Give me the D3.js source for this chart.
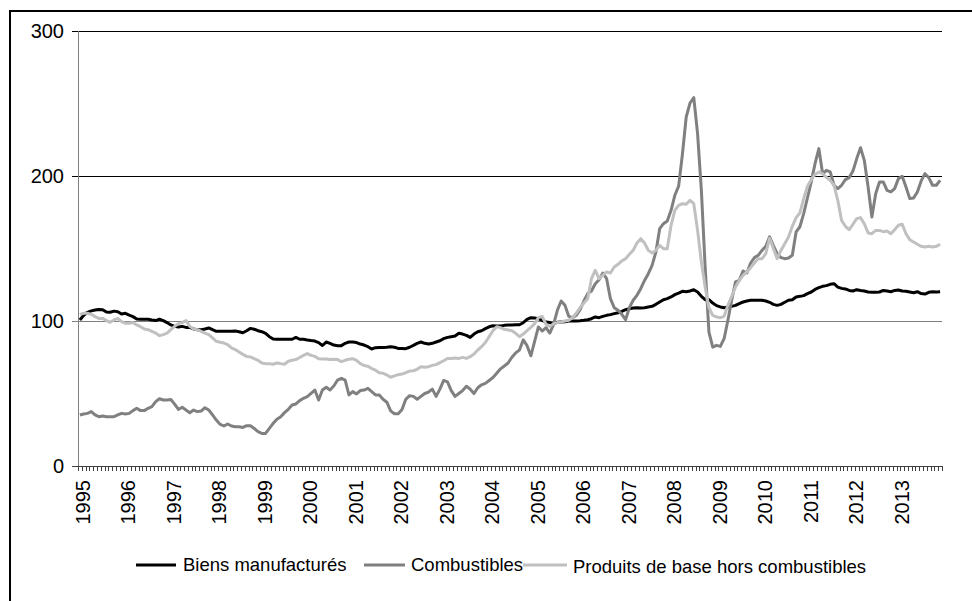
<!DOCTYPE html>
<html>
<head>
<meta charset="utf-8">
<script src="https://cdn.jsdelivr.net/npm/d3@7/dist/d3.min.js"></script>
<style>
  body { margin: 0; background: #fff; }
  svg { display: block; font-family: "Liberation Sans", Arial, sans-serif; }
</style>
</head>
<body>
<div id="chart"></div>
<script>
// year labels on the x axis (monthly data, Jan 1995 - Dec 2013)
const years = [1995,1996,1997,1998,1999,2000,2001,2002,2003,2004,2005,2006,2007,2008,2009,2010,2011,2012,2013];
const yTicks = [0, 100, 200, 300];
const seriesNames = ["Biens manufacturés", "Combustibles", "Produits de base hors combustibles"];

// one row per year, 12 monthly values
const biens = [
  100.7,104,106,107,107.6,108,107.8,106.2,106,106.8,106.4,104.8,
  105.3,104,103,101.4,101.2,101.2,101.2,100.7,100.3,101.2,100.3,98.9,
  97.3,96.3,95.8,96.3,95.6,95.6,94.5,94,94,94.5,95.2,94,
  92.9,92.9,92.9,92.9,92.9,93.1,92.6,91.9,93.3,94.9,94.3,93.3,
  92.6,91.5,89.2,87.6,87.4,87.4,87.4,87.4,87.4,88.7,87.4,87.4,
  86.9,86.5,86.2,85.1,83.1,85.5,84.6,83.4,83,83,84.6,85.5,
  85.5,85.1,84.1,83.4,82.3,80.7,81.6,81.8,81.8,81.9,82.3,81.9,
  81.1,81.1,80.9,81.9,83.2,84.6,85.5,84.6,84.1,84.6,85.5,86.4,
  87.8,88.7,89.2,89.6,91.5,91,90.1,88.7,91,92.6,93.3,94.7,
  96,96.7,96.5,96.5,97,97.2,97.2,97.4,97.4,98.8,101.1,102.3,
  102,101.6,100.5,99.3,98.9,98.2,99.1,99.3,99.5,100,100,100,
  100.2,100.5,100.9,101.6,102.8,102.3,103.2,103.9,104.4,105.1,105.7,106.7,
  107.8,108.5,109,109.2,109,109.2,109.7,110.1,111.5,113.1,114.7,115.4,
  116.6,118.2,119.3,120.5,120.2,120.7,121.6,120,117,114.7,114.7,112.4,
  110.6,109.7,109.2,109.7,110.1,110.8,112,113.1,113.8,114.3,114.3,114.3,
  114.3,113.8,112.9,111.5,110.8,111.5,112.9,114.3,114.7,116.6,117,117.5,
  118.9,120,121.8,123,123.9,124.4,125.3,125.7,123.4,122.5,122.1,121.1,
  120.7,121.6,121.1,120.7,120,119.8,119.8,120,121.1,120.7,120.2,121.1,
  121.4,120.7,120.5,120,119.5,120.2,118.9,118.6,119.8,120.2,120,120.2
];
const combustibles = [
  35.2,35.9,36.3,37.5,35.2,34,34.5,34,34,34,35.2,36.3,
  35.9,36.3,38.2,39.8,38.2,38.2,39.8,41,44.4,46.4,45.5,45.5,
  45.9,42.7,39,40.5,38.6,36.8,38.6,37.5,37.9,40.2,38.6,35.2,
  31.7,28.7,27.6,29,27.6,27.1,27.1,26.6,27.8,27.8,25.9,23.7,
  22.5,22.5,25.9,29.4,32.2,34,36.8,39.1,42.1,42.8,45.1,46.7,
  47.8,50.1,52.4,45.5,52.4,54.3,52.4,55.2,59.3,60.5,59.3,49,
  51.3,49.7,52,52.4,53.6,51.3,49,49,46,44,38,36,
  36,39,46,48.5,48,46,48,50,51,53,48,53,
  59,58,52,48,50,52,55,53,50,54,56,57,
  59,61,64,67,69,71,75,78,80,87,83,76,
  86,95.9,93.1,95.4,91.7,97.7,107.4,113.8,110.8,103.2,102.3,103.9,
  107.8,113.8,118.9,120.7,125.7,128.5,133.1,129.2,115.4,109.2,107.4,104.6,
  100.9,109.2,114.3,117.7,122.3,128,132.6,138.4,147.6,163.7,167.1,169,
  176.3,186.7,193,215,240.7,250.3,254,229.2,190.1,137.2,92.4,82,
  83.2,82.5,87.8,100.5,114.3,126.9,128,134.5,133.1,140,143.7,145.3,
  148.7,151.5,158,152,146.4,143.7,143,143.4,145.3,161.4,165,174,
  185,196,208.5,218.9,201.5,203.9,202.8,193.6,191.3,193.6,197.5,198.9,
  203.4,212,219.5,210.8,192.4,171.7,187.8,195.9,195.9,190.1,189,191.3,
  198.2,199.8,192.4,184.4,184.8,189,196.6,201.6,198.9,193.6,193.6,197
];
const produits = [
  104.6,105.3,105.3,104.6,103,101.8,101.8,100.3,99.1,100.7,101.8,99.5,
  98.4,98.4,98.9,97.3,96.1,94.5,94,92.9,91.7,89.9,90.6,91.7,
  94,96.3,98.2,98.9,100.3,96.3,94.5,94,92.9,91.7,90.6,88.3,
  86,85.3,84.8,83.7,81.4,80.3,78.6,77,75.6,75.2,74,72.9,
  71.1,70.6,70.6,70.2,71.1,70.6,70.2,72.2,72.9,73.4,74.8,76.3,
  77.5,76.3,75.6,74,73.8,73.8,73.4,73.6,73.4,72,72.9,73.6,
  74,72.9,70.6,69.3,68.8,67.2,66.1,64.3,63.9,62.8,61.2,62.1,
  63,63.4,64.4,65.5,65.7,66.7,68.5,68.1,68.5,69.4,69.9,71.3,
  72.6,74.2,74.2,74.5,74.2,74.9,74.2,75.4,77.2,80,82.3,85.2,
  89.2,93.3,96.1,95.4,94.3,93.8,93.3,91.5,89.2,91,93.3,95.6,
  98.2,102.3,103.2,97.7,96.3,98.2,98.9,99.3,100,100.5,102.3,105.5,
  109.2,112.4,115.4,129.2,134.9,129.2,131.5,133.8,133.1,137.2,139.1,141.4,
  143,146,148.7,153.8,156.8,153.8,148.7,146.9,148.7,152.2,149.9,149.9,
  166,176.3,179.8,180.9,180.5,183.2,180.9,162.5,140.7,123.4,109.2,103.9,
  102.8,102.3,103.2,110.8,117,123.4,128,131.5,133.8,136.8,140,143,
  143,146.4,157,150,143,148.7,153.3,157.9,165.3,171.3,174.5,184.4,
  192.9,197.5,201.1,202.8,201.5,199,197,193.6,183.2,169.4,165.3,163,
  166.7,170.6,171.3,167.1,160.7,160.2,162.5,162.5,161.6,162.1,160.2,163,
  166,166.7,160.2,156.1,154.5,152.9,151.5,151,151.5,151,151.5,152.9
];

const W = 972, H = 601;
const plotLeft = 78, plotRight = 942, plotTop = 31, plotBottom = 466;

// month categories built from the year list
const months = [];
years.forEach(function(yr) { for (let m = 1; m <= 12; m++) months.push(yr + "-" + m); });

const series = [
  {name: seriesNames[0], color: "#000000", values: biens},
  {name: seriesNames[1], color: "#808080", values: combustibles},
  {name: seriesNames[2], color: "#c0c0c0", values: produits}
];

const svg = d3.select("#chart").append("svg")
  .attr("width", W)
  .attr("height", H);

svg.append("rect")
  .attr("width", W).attr("height", H)
  .attr("fill", "#fff");

// outer frame (runs off the right and bottom of the picture)
svg.append("rect")
  .attr("x", 10).attr("y", 11)
  .attr("width", 1000).attr("height", 700)
  .attr("fill", "none")
  .attr("stroke", "#000")
  .attr("stroke-width", 2);

let x = d3.scaleBand()
  .domain(months)
  .range([plotLeft, plotRight])
  .padding(0);

let y = d3.scaleLinear()
  .domain([0, 300])
  .range([plotBottom, plotTop]);

// horizontal gridlines
svg.append("g")
  .selectAll("line")
  .data(yTicks.filter(function(d) { return d > 0; }))
  .enter().append("line")
    .attr("x1", plotLeft - 6)
    .attr("x2", plotRight)
    .attr("y1", function(d) { return Math.round(y(d)) + 0.5; })
    .attr("y2", function(d) { return Math.round(y(d)) + 0.5; })
    .attr("stroke", function(d) { return d === 100 ? "#808080" : "#000"; })
    .attr("stroke-width", 1);

// y axis line
svg.append("line")
  .attr("x1", plotLeft + 0.5).attr("x2", plotLeft + 0.5)
  .attr("y1", plotTop).attr("y2", plotBottom)
  .attr("stroke", "#808080");

// x axis line + monthly ticks
svg.append("line")
  .attr("x1", plotLeft - 6).attr("x2", plotRight)
  .attr("y1", plotBottom + 0.5).attr("y2", plotBottom + 0.5)
  .attr("stroke", "#404040");

svg.append("g")
  .selectAll("line")
  .data(months.concat(["end"]))
  .enter().append("line")
    .attr("x1", function(d, i) { return Math.round(plotLeft + i * x.bandwidth()) + 0.5; })
    .attr("x2", function(d, i) { return Math.round(plotLeft + i * x.bandwidth()) + 0.5; })
    .attr("y1", plotBottom)
    .attr("y2", plotBottom + 5)
    .attr("stroke", "#404040");

// y labels
svg.append("g")
  .selectAll("text")
  .data(yTicks)
  .enter().append("text")
    .attr("x", 64)
    .attr("y", function(d) { return y(d); })
    .attr("dy", "0.36em")
    .attr("text-anchor", "end")
    .style("font-size", "20px")
    .text(function(d) { return d; });

// year labels, rotated
svg.append("g")
  .selectAll("text")
  .data(years)
  .enter().append("text")
    .attr("transform", function(d) {
      return "translate(" + (x(d + "-1") + 12) + "," + (plotBottom + 14) + ") rotate(-90)";
    })
    .attr("text-anchor", "end")
    .style("font-size", "20px")
    .text(function(d) { return d; });

// the three lines
let line = d3.line()
  .x(function(d, i) { return x(months[i]) + x.bandwidth() / 2; })
  .y(function(d) { return y(d); });

svg.append("g")
  .selectAll("path")
  .data(series)
  .enter().append("path")
    .attr("d", function(d) { return line(d.values); })
    .attr("fill", "none")
    .attr("stroke", function(d) { return d.color; })
    .attr("stroke-width", 3)
    .attr("stroke-linejoin", "round");

// legend
const legendPos = [
  {x1: 136, x2: 176, tx: 183, ty: 571},
  {x1: 364, x2: 405, tx: 411, ty: 571},
  {x1: 523, x2: 567, tx: 573, ty: 573}
];

let legend = svg.selectAll(".legend")
  .data(series)
  .enter().append("g")
    .attr("class", "legend");

legend.append("line")
  .attr("x1", function(d, i) { return legendPos[i].x1; })
  .attr("x2", function(d, i) { return legendPos[i].x2; })
  .attr("y1", 565).attr("y2", 565)
  .attr("stroke", function(d) { return d.color; })
  .attr("stroke-width", 3);

legend.append("text")
  .attr("x", function(d, i) { return legendPos[i].tx; })
  .attr("y", function(d, i) { return legendPos[i].ty; })
  .style("font-size", "18.5px")
  .text(function(d) { return d.name; });
</script>
</body>
</html>
